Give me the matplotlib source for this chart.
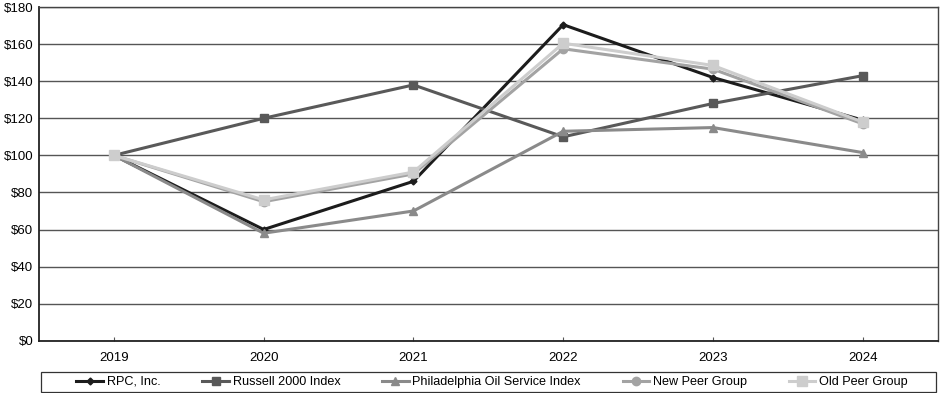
import matplotlib.pyplot as plt
import numpy as np
from matplotlib.patches import Rectangle

plt.rcParams["font.family"] = ["Liberation Sans", "DejaVu Sans"]

years = ["2019", "2020", "2021", "2022", "2023", "2024"]
rpc = [100, 60, 86, 170.5, 142, 119]
russell = [100, 120, 138, 110, 128, 143]
phlx_oil = [100, 58, 70, 113, 115, 101.5]
new_peer = [100, 75, 90, 157.5, 146.5, 117]
old_peer = [100, 76, 91, 160.5, 148.5, 118]

series = [
    ("RPC, Inc.", rpc, "#1c1c1c", "D", 3.5),
    ("Russell 2000 Index", russell, "#595959", "s", 5.5),
    ("Philadelphia Oil Service Index", phlx_oil, "#8a8a8a", "^", 6),
    ("New Peer Group", new_peer, "#a3a3a3", "o", 6),
    ("Old Peer Group", old_peer, "#cdcdcd", "s", 6.5),
]

fig = plt.figure(figsize=(9.4, 3.93), dpi=100)
ax = fig.add_axes([0.0415, 0.133, 0.956, 0.849])

x = np.arange(len(years))
for label, vals, color, marker, ms in series:
    ax.plot(x, vals, color=color, lw=2.2, marker=marker, ms=ms,
            markeredgecolor=color, label=label)

ax.set_xlim(-0.5, len(years) - 0.5)
ax.set_ylim(0, 180)
ax.set_yticks(np.arange(0, 181, 20))
ax.set_yticklabels([f"${v}" for v in range(0, 181, 20)])
ax.set_xticks(x)
ax.set_xticklabels(years)
ax.yaxis.grid(True, color="#555555", lw=1.0)
ax.set_axisbelow(True)
ax.tick_params(axis="y", length=0, labelsize=9.5, pad=4)
ax.tick_params(axis="x", direction="in", length=3, labelsize=9.5, pad=8, color="#555555")
for side in ["left", "bottom"]:
    ax.spines[side].set_color("#222222")
    ax.spines[side].set_linewidth(1.3)
for side in ["top", "right"]:
    ax.spines[side].set_color("#444444")
    ax.spines[side].set_linewidth(1.0)

# legend box spans the plot width, entries centred inside it
fig.patches.append(Rectangle((41 / 940, 1 / 393), 895 / 940, 20 / 393,
                             transform=fig.transFigure, fill=False,
                             edgecolor="#333333", lw=0.9))
leg = fig.legend(loc="center", bbox_to_anchor=(492 / 940, 11 / 393),
                 ncol=5, fontsize=9.1, frameon=False,
                 handlelength=2.1, handletextpad=0.3, columnspacing=3.3,
                 borderpad=0, borderaxespad=0)

fig.savefig("out.png", dpi=100)
